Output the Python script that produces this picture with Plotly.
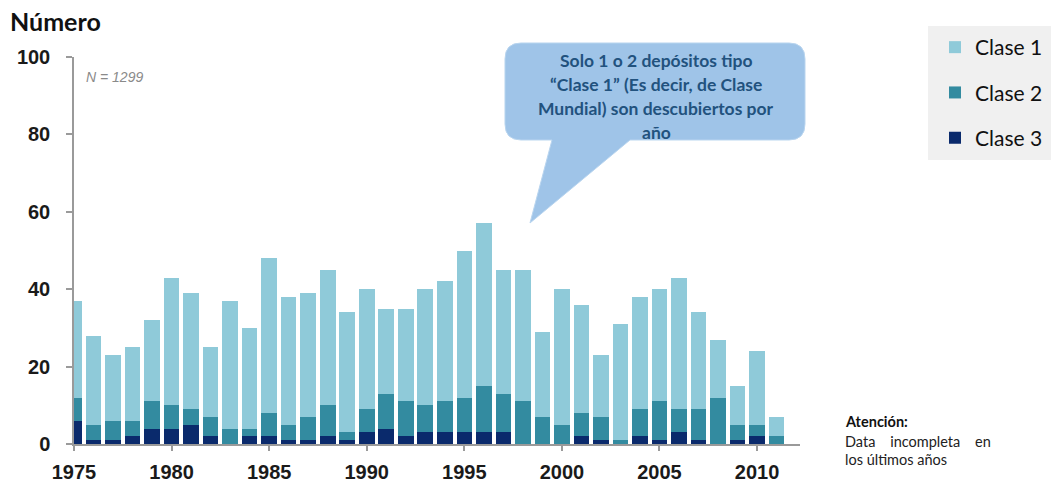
import plotly.graph_objects as go

# Discoveries per year, split by deposit class
years = list(range(1975, 2012))
clase_1 = [25, 23, 17, 19, 21, 33, 30, 18, 33, 26, 40, 33, 32, 35, 31, 31, 22, 24, 30, 31, 38, 42, 32, 34, 22, 35, 28, 16, 30, 29, 29, 34, 25, 15, 10, 19, 5]
clase_2 = [6, 4, 5, 4, 7, 6, 4, 5, 4, 2, 6, 4, 6, 8, 2, 6, 9, 9, 7, 8, 9, 12, 10, 11, 7, 5, 6, 6, 1, 7, 10, 6, 8, 12, 4, 3, 2]
clase_3 = [6, 1, 1, 2, 4, 4, 5, 2, 0, 2, 2, 1, 1, 2, 1, 3, 4, 2, 3, 3, 3, 3, 3, 0, 0, 0, 2, 1, 0, 2, 1, 3, 1, 0, 1, 2, 0]

series_names = ["Clase 3", "Clase 2", "Clase 1"]
series_values = [clase_3, clase_2, clase_1]
series_colors = ["#0a2a6c", "#338ba0", "#8fcad9"]
series_rank = [3, 2, 1]

y_ticks = [0, 20, 40, 60, 80, 100]
x_ticks = [1975, 1980, 1985, 1990, 1995, 2000, 2005, 2010]

callout_lines = [
    "Solo 1 o 2 depósitos tipo",
    "“Clase 1” (Es decir, de Clase",
    "Mundial) son descubiertos por",
    "año",
]

FIG_W, FIG_H = 1051, 483
L, R, T, B = 74, 800, 57, 444  # plot area in pixels


def px(x):
    return (x - L) / (R - L)


def py(y):
    return (B - y) / (B - T)


fig = go.Figure()
for name, vals, col, rank in zip(series_names, series_values, series_colors, series_rank):
    fig.add_trace(go.Bar(
        x=years, y=vals, name=name, legendgroup=name, legendrank=rank,
        marker=dict(color=col, line=dict(width=0)),
    ))

# Callout bubble: rounded rectangle with a pointer, in pixel terms
bx0, bx1, by0, by1, rad = 505, 805, 43, 140, 16
tip = (530, 223)
base_l, base_r = 552, 630
pts = [
    ("M", bx0 + rad, by0),
    ("L", bx1 - rad, by0),
    ("Q", bx1, by0, bx1, by0 + rad),
    ("L", bx1, by1 - rad),
    ("Q", bx1, by1, bx1 - rad, by1),
    ("L", base_r, by1),
    ("L", tip[0], tip[1]),
    ("L", base_l, by1),
    ("L", bx0 + rad, by1),
    ("Q", bx0, by1, bx0, by1 - rad),
    ("L", bx0, by0 + rad),
    ("Q", bx0, by0, bx0 + rad, by0),
]
path = ""
for seg in pts:
    cmd, coords = seg[0], seg[1:]
    parts = []
    for i in range(0, len(coords), 2):
        parts.append(f"{px(coords[i]):.5f},{py(coords[i + 1]):.5f}")
    path += cmd + " ".join(parts) + " "
path += "Z"

shapes = [
    dict(type="path", xref="paper", yref="paper", path=path,
         fillcolor="#9fc4e8", line=dict(color="#b9d5ef", width=1), layer="above"),
    # legend backdrop
    dict(type="rect", xref="paper", yref="paper",
         x0=px(928), x1=px(1051), y0=py(160), y1=py(26),
         fillcolor="#f0f0f0", line=dict(width=0), layer="below"),
]

annotations = [
    dict(text="<b>Número</b>", xref="paper", yref="paper", x=px(8), y=py(21),
         xanchor="left", yanchor="middle", showarrow=False,
         font=dict(family="Lato", size=25, color="#111111")),
    dict(text="<i>N = 1299</i>", xref="paper", yref="paper", x=px(84), y=py(77),
         xanchor="left", yanchor="middle", showarrow=False,
         font=dict(family="Liberation Sans", size=14, color="#8a8a8a")),
    dict(text="<b>Atención:</b>", xref="paper", yref="paper", x=px(843), y=py(421),
         xanchor="left", yanchor="middle", showarrow=False,
         font=dict(family="Lato", size=14.5, color="#111111")),
    dict(text="Data\u00a0\u00a0\u00a0\u00a0incompleta\u00a0\u00a0\u00a0\u00a0en", xref="paper", yref="paper",
         x=px(843), y=py(441), xanchor="left", yanchor="middle", showarrow=False,
         font=dict(family="Lato", size=14.5, color="#222222")),
    dict(text="los últimos años", xref="paper", yref="paper", x=px(843), y=py(460),
         xanchor="left", yanchor="middle", showarrow=False,
         font=dict(family="Lato", size=14.5, color="#222222")),
]
for i, line in enumerate(callout_lines):
    annotations.append(dict(
        text=f"<b>{line}</b>", xref="paper", yref="paper", x=px(656), y=py(60 + i * 24),
        xanchor="center", yanchor="middle", showarrow=False,
        font=dict(family="Lato", size=17.5, color="#22527e")))

fig.update_layout(
    width=FIG_W, height=FIG_H,
    margin=dict(l=L, r=FIG_W - R, t=T, b=FIG_H - B, pad=0, autoexpand=False),
    paper_bgcolor="white", plot_bgcolor="white",
    barmode="stack", bargap=0.2,
    showlegend=True,
    legend=dict(
        x=px(935), y=py(27), xanchor="left", yanchor="top",
        bgcolor="rgba(0,0,0,0)", traceorder="grouped", tracegroupgap=15,
        font=dict(family="Lato", size=21, color="#111111"),
    ),
    shapes=shapes,
    annotations=annotations,
    xaxis=dict(
        range=[1975, 2012.2], tickvals=x_ticks, ticktext=[str(v) for v in x_ticks],
        showgrid=False, zeroline=False, showline=True, linecolor="#9a9a9a", linewidth=1.5,
        ticks="outside", ticklen=5, tickcolor="#9a9a9a", tickwidth=1.5,
        ticklabelstandoff=4, automargin=False,
        tickfont=dict(family="Liberation Sans", size=20, color="#1a1a1a", weight="bold"),
    ),
    yaxis=dict(
        range=[0, 100], tickvals=y_ticks,
        showgrid=False, zeroline=False, showline=True, linecolor="#9a9a9a", linewidth=1.5,
        ticks="outside", ticklen=6, tickcolor="#9a9a9a", tickwidth=1.5,
        ticklabelstandoff=12, automargin=False,
        tickfont=dict(family="Liberation Sans", size=20, color="#1a1a1a", weight="bold"),
    ),
)

fig.write_html("out.html")
